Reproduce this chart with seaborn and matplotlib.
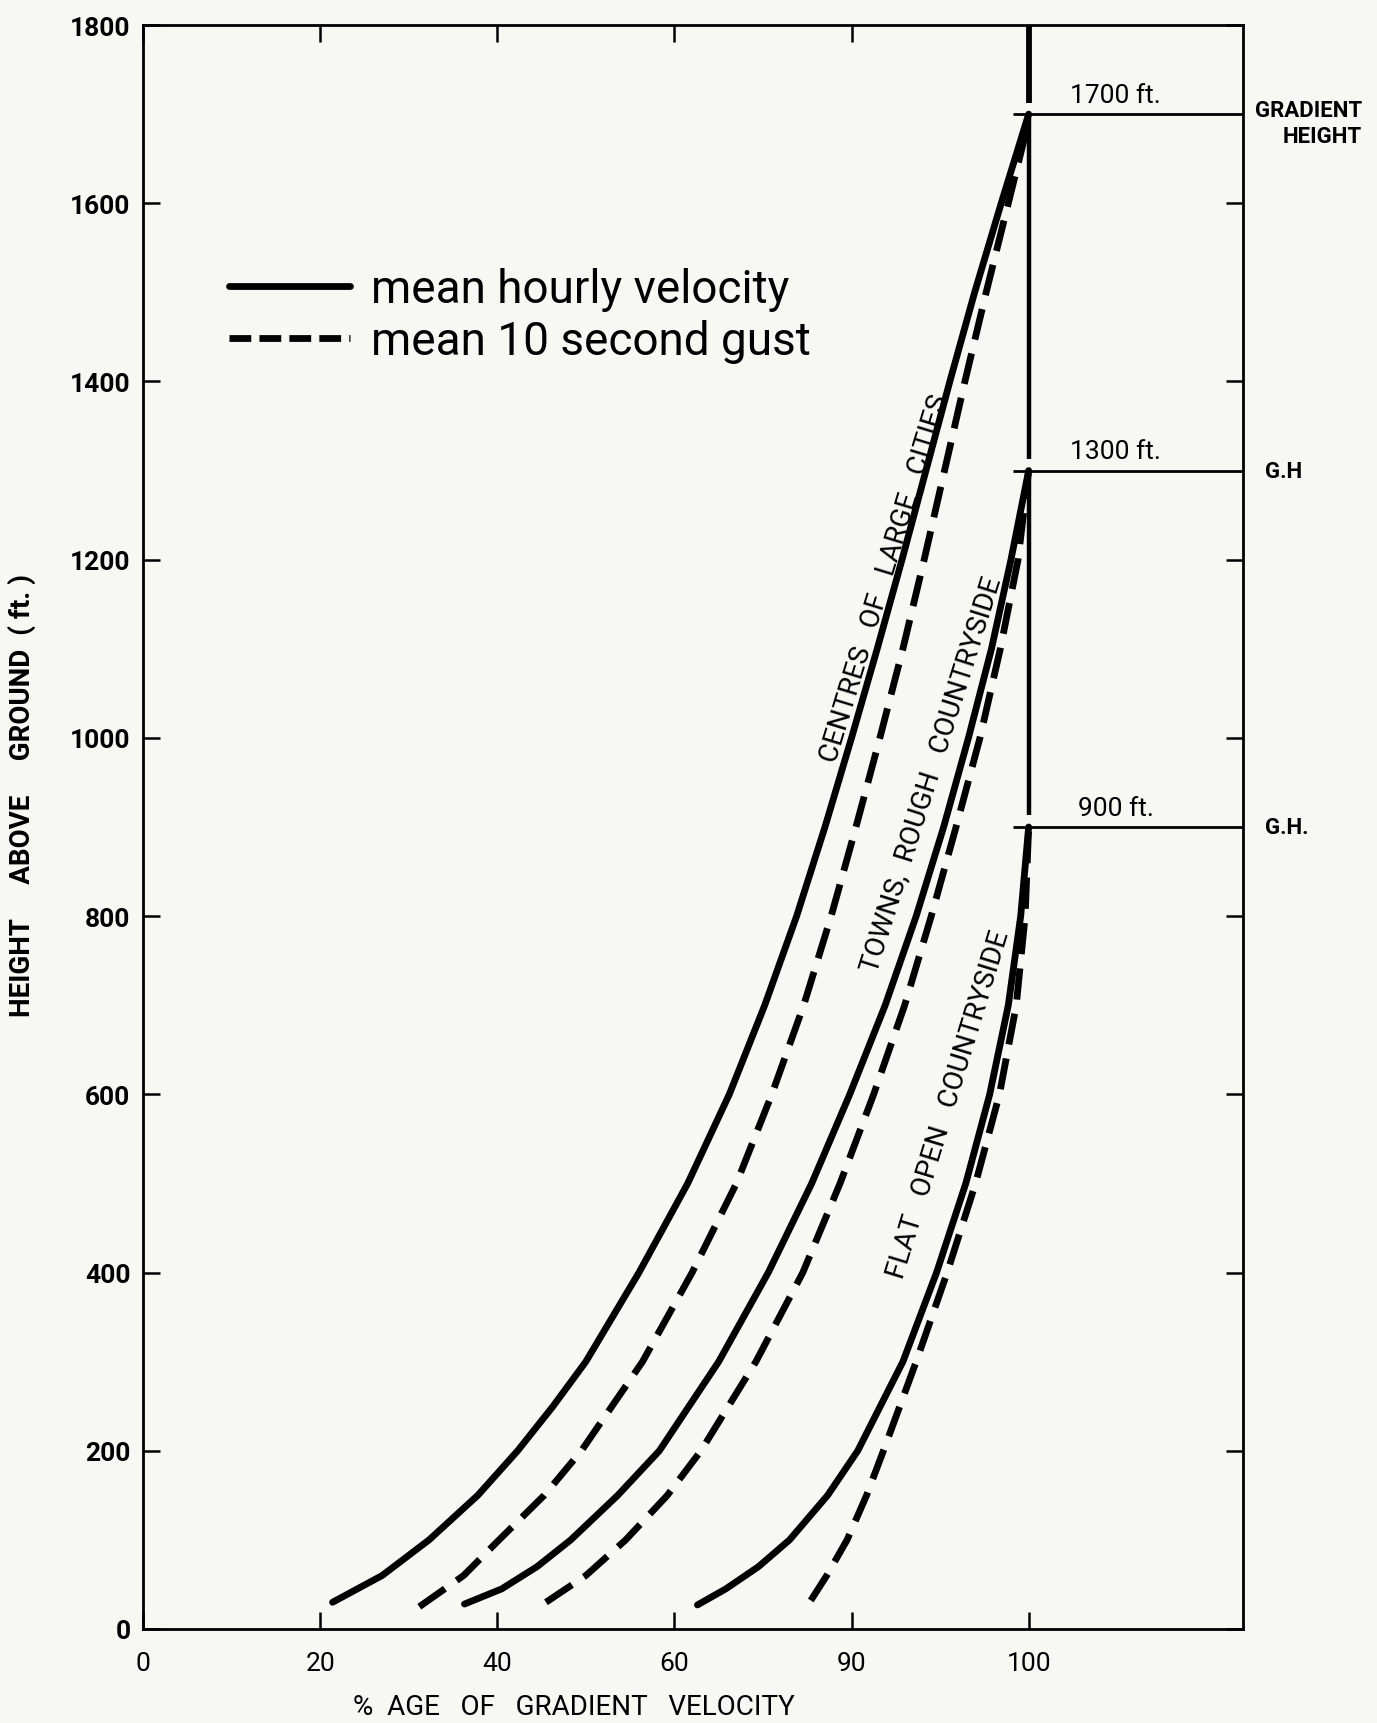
import numpy as np
import pandas as pd
import matplotlib.pyplot as plt
from matplotlib.lines import Line2D
import seaborn as sns

# values: height above ground (ft) and % of gradient velocity
city_h = [30, 60, 100, 150, 200, 250, 300, 400, 500, 600, 700, 800, 900, 1000, 1100, 1200, 1300, 1400, 1500, 1600, 1700]
city_mean = [21.4, 27.0, 32.3, 37.8, 42.3, 46.3, 50.0, 56.0, 61.5, 66.2, 70.2, 73.8, 77.0, 80.0, 82.9, 85.7, 88.4, 91.1, 93.9, 96.9, 100]
city_gust_h = [25, 60, 100, 150, 200, 300, 400, 500, 600, 700, 800, 900, 1000, 1100, 1200, 1300, 1400, 1500, 1600, 1680]
city_gust = [31.2, 36.2, 40.2, 45.3, 49.5, 56.4, 62.0, 67.0, 71.0, 74.6, 77.7, 80.5, 83.2, 85.8, 88.2, 90.5, 92.8, 95.2, 97.7, 99.7]

town_h = [28, 45, 70, 100, 150, 200, 300, 400, 500, 600, 700, 800, 900, 1000, 1100, 1200, 1300]
town_mean = [36.3, 40.5, 44.5, 48.3, 53.6, 58.3, 65.0, 70.6, 75.5, 79.8, 83.8, 87.3, 90.4, 93.2, 95.8, 98.0, 100]
town_gust_h = [30, 60, 100, 150, 200, 300, 400, 500, 600, 700, 800, 900, 1000, 1100, 1200, 1300]
town_gust = [45.5, 50.0, 54.5, 59.2, 63.0, 69.2, 74.5, 78.7, 82.5, 86.0, 89.0, 91.8, 94.5, 96.8, 98.8, 100]

flat_h = [27, 45, 70, 100, 150, 200, 300, 400, 500, 600, 700, 800, 900]
flat_mean = [62.6, 65.8, 69.5, 73.0, 77.3, 80.7, 85.8, 89.6, 92.9, 95.6, 97.7, 99.1, 100]
flat_gust_h = [32, 60, 100, 150, 200, 300, 400, 500, 600, 700, 800, 900]
flat_gust = [75.4, 77.2, 79.5, 81.7, 83.6, 87.3, 90.8, 94.0, 96.7, 98.6, 99.6, 100]

gradient_heights = [1700, 1300, 900]
gradient_labels = ['1700 ft.', '1300 ft.', '900 ft.']
gh_labels = ['GRADIENT\nHEIGHT', 'G.H', 'G.H.']

x_ticks = [0, 20, 40, 60, 80, 100]
x_ticklabels = ['0', '20', '40', '60', '90', '100']
y_ticks = [0, 200, 400, 600, 800, 1000, 1200, 1400, 1600, 1800]

MEAN = 'mean hourly velocity'
GUST = 'mean 10 second gust'

rows = []
for name, kind, hs, xs in [
    ('cities', MEAN, city_h, city_mean), ('cities', GUST, city_gust_h, city_gust),
    ('towns', MEAN, town_h, town_mean), ('towns', GUST, town_gust_h, town_gust),
    ('flat', MEAN, flat_h, flat_mean), ('flat', GUST, flat_gust_h, flat_gust)]:
    for h, x in zip(hs, xs):
        rows.append({'curve': name + kind, 'kind': kind, 'pct': x, 'height': h})
df = pd.DataFrame(rows)

sns.set_theme(style='white')
plt.rcParams['font.family'] = ['Roboto', 'DejaVu Sans']
plt.rcParams['text.color'] = 'black'
plt.rcParams['axes.labelcolor'] = 'black'
plt.rcParams['lines.dash_capstyle'] = 'butt'
plt.rcParams['lines.solid_capstyle'] = 'round'

paper = '#f7f7f3'
fig = plt.figure(figsize=(13.77, 17.24), dpi=100, facecolor=paper)
ax = fig.add_axes([143 / 1377, 1 - 1630 / 1724, 1100 / 1377, 1604 / 1724])
ax.set_facecolor(paper)

lw = 4.9
sns.lineplot(data=df, x='pct', y='height', units='curve', style='kind', estimator=None,
             sort=False, color='black', linewidth=lw,
             dashes={MEAN: '', GUST: (4.6, 2.1)}, legend=False, ax=ax)

# gradient height marker lines
ax.plot([100, 100], [1713, 1800], color='black', lw=4.2, solid_capstyle='butt')
ax.plot([100, 100], [1313, 1700], color='black', lw=3.2, solid_capstyle='butt')
ax.plot([100, 100], [913, 1300], color='black', lw=3.2, solid_capstyle='butt')
for gh, lab in zip(gradient_heights, gradient_labels):
    ax.plot([98.2, 124.2], [gh, gh], color='black', lw=2.0, solid_capstyle='butt')
    ax.text(109.8, gh + 8, lab, ha='center', va='bottom', fontsize=19)

ax.text(1.108, 1690 / 1800, gh_labels[0], transform=ax.transAxes, ha='right', va='center',
        fontsize=16, fontweight='bold', multialignment='right', linespacing=1.25)
ax.text(1.02, 1300 / 1800, gh_labels[1], transform=ax.transAxes, ha='left', va='center',
        fontsize=16, fontweight='bold')
ax.text(1.02, 900 / 1800, gh_labels[2], transform=ax.transAxes, ha='left', va='center',
        fontsize=16, fontweight='bold')

# curve labels
ax.text(83.8, 1180, 'CENTRES   OF   LARGE   CITIES', rotation=73, rotation_mode='anchor',
        ha='center', va='center', fontsize=20)
ax.text(89.0, 960, 'TOWNS,  ROUGH   COUNTRYSIDE', rotation=72.5, rotation_mode='anchor',
        ha='center', va='center', fontsize=20)
ax.text(91.0, 590, 'FLAT   OPEN   COUNTRYSIDE', rotation=73, rotation_mode='anchor',
        ha='center', va='center', fontsize=20)

ax.set_xlim(0, 124.2)
ax.set_ylim(0, 1800)
ax.set_xticks(x_ticks)
ax.set_xticklabels(x_ticklabels)
ax.set_yticks(y_ticks)
ax.tick_params(axis='both', direction='in', length=12, width=1.8, color='black',
               bottom=True, left=True, top=True, right=True, labelsize=19, labelcolor='black')
ax.tick_params(axis='x', pad=16)
ax.tick_params(axis='y', pad=9)
for lab in ax.get_yticklabels():
    lab.set_fontweight('bold')
for s in ax.spines.values():
    s.set_color('black')
    s.set_linewidth(2.0)

ax.set_xlabel('%  AGE   OF   GRADIENT   VELOCITY', fontsize=20)
ax.xaxis.set_label_coords(0.392, -0.04)
ax.set_ylabel('HEIGHT     ABOVE     GROUND  ( ft. )', fontsize=20, fontweight='bold')
ax.yaxis.set_label_coords(-0.097, 0.52)

handles = [Line2D([], [], color='black', lw=lw),
           Line2D([], [], color='black', lw=lw, dashes=(3.2, 1.2), dash_capstyle='butt')]
ax.legend(handles, [MEAN, GUST], loc='upper left', bbox_to_anchor=(0.078, 0.849),
          frameon=False, fontsize=33, handlelength=2.65, handletextpad=0.45,
          labelspacing=0.18, borderpad=0, borderaxespad=0)

fig.savefig('out.png', dpi=100, facecolor=paper)
